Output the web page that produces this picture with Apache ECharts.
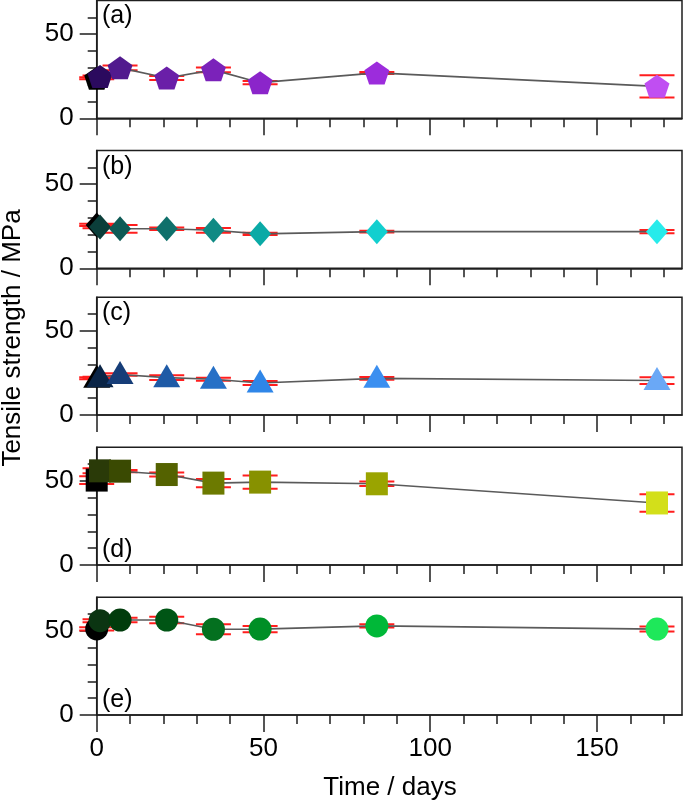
<!DOCTYPE html>
<html>
<head>
<meta charset="utf-8">
<script src="https://cdn.jsdelivr.net/npm/echarts@6/dist/echarts.min.js"></script>
<style>
html,body{margin:0;padding:0;background:#fff;}
#chart{width:685px;height:805px;}
</style>
</head>
<body>
<div id="chart"></div>
<script>
// ---- data ----
const days = [0, 1, 7, 21, 35, 49, 84, 168];
const panelLabels = ['(a)', '(b)', '(c)', '(d)', '(e)'];
const strengthA = [23.8, 24.8, 30.0, 24.0, 28.8, 21.2, 27.0, 19.0];
const errorA    = [0.6, 0.6, 1.4, 1.2, 1.4, 1.0, 0.6, 6.6];
const strengthB = [25.8, 24.5, 23.5, 23.5, 22.6, 20.5, 21.8, 21.8];
const errorB    = [0.7, 0.7, 2.3, 0.7, 1.4, 0.7, 0.5, 1.0];
const strengthC = [21.8, 22.2, 24.1, 22.2, 21.3, 19.0, 21.8, 20.5];
const errorC    = [0.6, 0.6, 0.7, 1.4, 0.9, 1.2, 0.8, 2.0];
const strengthD = [50.5, 56.0, 55.8, 53.8, 48.7, 49.3, 48.3, 36.9];
const errorD    = [2.3, 1.5, 0.7, 1.2, 2.4, 3.9, 1.3, 5.2];
const strengthE = [51.2, 56.1, 56.5, 56.5, 51.0, 51.1, 53.0, 51.1];
const errorE    = [1.0, 0.9, 1.4, 2.0, 3.0, 1.9, 1.0, 1.5];
const xMajorTicks = [0, 50, 100, 150];
const xMinorTicks = [10, 20, 30, 40, 60, 70, 80, 90, 110, 120, 130, 140, 160, 170];
const yMajorTicks = [0, 50];
const yMinorTicks = [10, 20, 30, 40, 60];

// ---- styles ----
const colorsA = ['#000000', '#2b0a5e', '#511a8e', '#6a1fa8', '#7b22ba', '#8b25ca', '#9c2cdc', '#c04ef2'];
const colorsB = ['#000000', '#0b3e3a', '#0e5a55', '#0f706b', '#108a84', '#0aaaa6', '#12cfcf', '#27ebeb'];
const colorsC = ['#000000', '#0a2446', '#163d78', '#1e5aa6', '#2670c6', '#2f86e8', '#3b8ff0', '#6aa8f6'];
const colorsD = ['#000000', '#2a3a08', '#3a4a02', '#546200', '#6c7a00', '#879100', '#9aa400', '#d3df1a'];
const colorsE = ['#000000', '#0b3512', '#013c0c', '#005515', '#04701f', '#008f26', '#00b838', '#1ee85a'];

const pentagon = 'path://M50,0 L97.6,34.5 L79.4,90.5 L20.6,90.5 L2.4,34.5 Z';
const panels = [
  {vals: strengthA, errs: errorA, cols: colorsA, symbol: pentagon, size: [25, 23], offset: [0, 0]},
  {vals: strengthB, errs: errorB, cols: colorsB, symbol: 'diamond', size: [22, 25], offset: [0, 0]},
  {vals: strengthC, errs: errorC, cols: colorsC, symbol: 'triangle', size: [27, 23], offset: [0, -2]},
  {vals: strengthD, errs: errorD, cols: colorsD, symbol: 'rect', size: [22, 23], offset: [0, 0]},
  {vals: strengthE, errs: errorE, cols: colorsE, symbol: 'circle', size: [23, 23], offset: [0, 0]}
];
const tops = [0.6, 150.6, 297.3, 447.3, 597.3];
const H = 117.7;
const labelCenters = [17.5, 169, 315, 551.5, 701.5];
const FONT = 'Liberation Sans, Arial, sans-serif';
const AX = '#1e1e1e';

const grids = [], xAxes = [], yAxes = [], series = [], graphics = [];
panels.forEach((p, i) => {
  grids.push({left: 96.7, right: 3, top: tops[i], height: H, show: true,
    borderColor: AX, borderWidth: 1.5, backgroundColor: 'transparent'});
  xAxes.push({type: 'value', gridIndex: i, position: 'bottom', min: 0, max: 175.5, interval: 10,
    axisLine: {show: true, onZero: false, lineStyle: {color: AX, width: 1.5}},
    axisTick: {show: true, length: 9, customValues: xMinorTicks, lineStyle: {color: AX, width: 1.5}},
    axisLabel: {show: i === 4, customValues: xMajorTicks, fontSize: 26, margin: 21, color: '#000', fontFamily: FONT},
    splitLine: {show: false}});
  xAxes.push({type: 'value', gridIndex: i, position: 'bottom', min: 0, max: 175.5, interval: 50,
    axisLine: {show: false, onZero: false},
    axisTick: {show: true, length: 17, customValues: xMajorTicks, lineStyle: {color: AX, width: 1.5}},
    axisLabel: {show: false}, splitLine: {show: false}});
  yAxes.push({type: 'value', gridIndex: i, position: 'left', min: 0, max: 70, interval: 10,
    axisLine: {show: true, onZero: false, lineStyle: {color: AX, width: 1.5}},
    axisTick: {show: true, length: 9, customValues: yMinorTicks, lineStyle: {color: AX, width: 1.5}},
    axisLabel: {show: true, customValues: yMajorTicks, fontSize: 26, margin: 23, color: '#000', fontFamily: FONT},
    splitLine: {show: false}});
  yAxes.push({type: 'value', gridIndex: i, position: 'left', min: 0, max: 70, interval: 10,
    axisLine: {show: false, onZero: false},
    axisTick: {show: true, length: 17, customValues: yMajorTicks, lineStyle: {color: AX, width: 1.5}},
    axisLabel: {show: false}, splitLine: {show: false}});

  series.push({
    type: 'custom', xAxisIndex: 2 * i, yAxisIndex: 2 * i, z: 1, clip: false, silent: true,
    data: days.map((d, k) => [d, p.vals[k] - p.errs[k], p.vals[k] + p.errs[k]]),
    encode: {x: 0, y: [1, 2]},
    renderItem: (params, api) => {
      const x = api.value(0);
      const a = api.coord([x, api.value(1)]);
      const b = api.coord([x, api.value(2)]);
      const hw = 17.5;
      const st = {stroke: '#ff1e1e', lineWidth: 2};
      return {type: 'group', children: [
        {type: 'line', shape: {x1: a[0] - hw, y1: a[1], x2: a[0] + hw, y2: a[1]}, style: st},
        {type: 'line', shape: {x1: b[0] - hw, y1: b[1], x2: b[0] + hw, y2: b[1]}, style: st}
      ]};
    }
  });
  series.push({
    type: 'line', xAxisIndex: 2 * i, yAxisIndex: 2 * i, z: 2, clip: false,
    symbol: p.symbol, symbolSize: p.size, symbolOffset: p.offset, showSymbol: true,
    lineStyle: {color: '#5a5a5a', width: 1.6},
    data: days.map((d, k) => ({value: [d, p.vals[k]], itemStyle: {color: p.cols[k], opacity: 1}})),
    animation: false
  });
  graphics.push({type: 'text', left: 102, top: labelCenters[i] - 14,
    style: {text: panelLabels[i], fontSize: 25, fontFamily: FONT, fill: '#000'}});
});

graphics.push({type: 'text', x: 390, y: 788,
  style: {text: 'Time / days', fontSize: 26, fontFamily: FONT, fill: '#000', align: 'center', verticalAlign: 'middle'}});
graphics.push({type: 'text', x: 13, y: 338, rotation: Math.PI / 2,
  style: {text: 'Tensile strength / MPa', fontSize: 26, fontFamily: FONT, fill: '#000', align: 'center', verticalAlign: 'middle'}});

const chart = echarts.init(document.getElementById('chart'), null, {renderer: 'canvas'});
chart.setOption({
  animation: false,
  backgroundColor: '#fff',
  grid: grids, xAxis: xAxes, yAxis: yAxes, series: series, graphic: graphics
});
</script>
</body>
</html>
